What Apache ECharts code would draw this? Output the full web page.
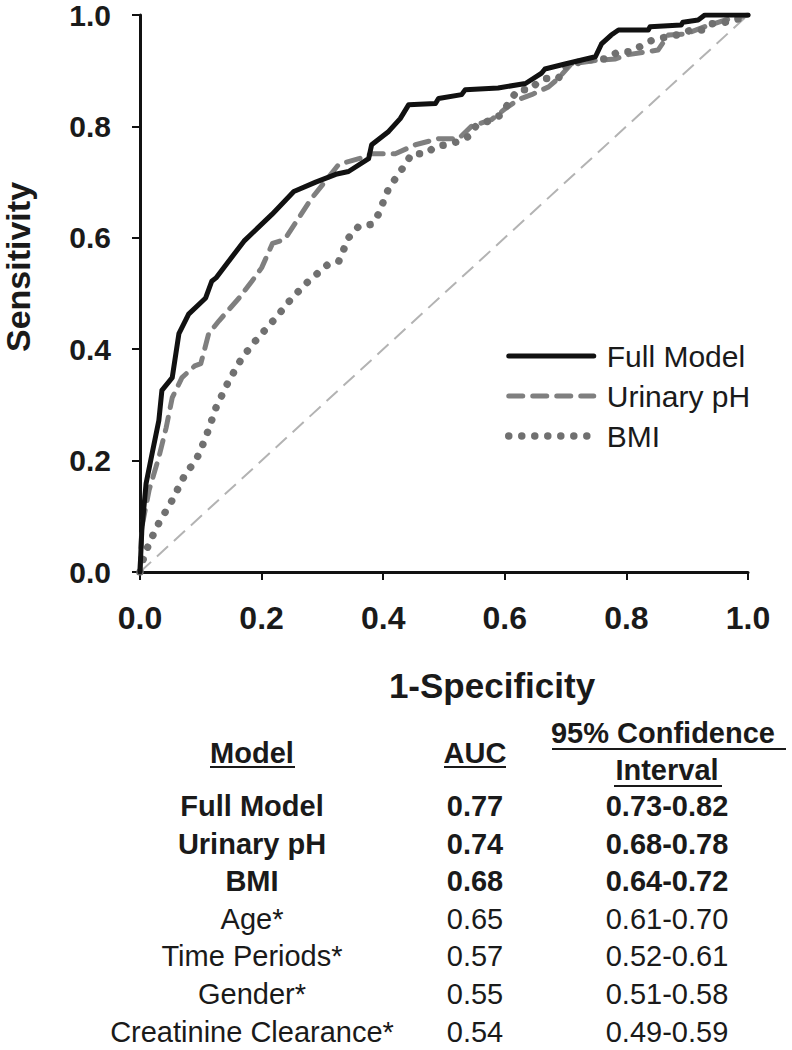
<!DOCTYPE html>
<html>
<head>
<meta charset="utf-8">
<script src="https://cdn.jsdelivr.net/npm/echarts@6/dist/echarts.min.js"></script>
<style>
html,body{margin:0;padding:0;background:#ffffff;}
#chart{width:792px;height:1050px;}
</style>
</head>
<body>
<div id="chart"></div>
<script>
// ---------------- data ----------------
const seriesNames = ['Full Model', 'Urinary pH', 'BMI'];

const fullModel = [[0,0],[0.003,0.075],[0.01,0.159],[0.02,0.213],[0.031,0.272],[0.036,0.326],[0.053,0.349],[0.064,0.428],[0.08,0.463],[0.108,0.492],[0.118,0.522],[0.125,0.528],[0.171,0.594],[0.217,0.642],[0.253,0.683],[0.289,0.70],[0.322,0.714],[0.343,0.719],[0.376,0.742],[0.381,0.767],[0.409,0.791],[0.428,0.814],[0.442,0.839],[0.486,0.841],[0.491,0.85],[0.529,0.857],[0.535,0.866],[0.589,0.869],[0.634,0.877],[0.66,0.895],[0.666,0.903],[0.699,0.912],[0.749,0.925],[0.759,0.948],[0.775,0.964],[0.787,0.973],[0.836,0.973],[0.839,0.979],[0.89,0.982],[0.893,0.987],[0.918,0.991],[0.929,1.0],[1,1]];

const urinaryPH = [[0,0],[0.003,0.08],[0.015,0.147],[0.031,0.206],[0.043,0.259],[0.053,0.313],[0.069,0.349],[0.09,0.37],[0.1,0.374],[0.113,0.428],[0.13,0.451],[0.163,0.492],[0.184,0.522],[0.2,0.546],[0.218,0.59],[0.238,0.597],[0.281,0.669],[0.327,0.732],[0.36,0.742],[0.381,0.751],[0.42,0.751],[0.453,0.767],[0.491,0.778],[0.524,0.778],[0.545,0.8],[0.578,0.812],[0.601,0.832],[0.622,0.848],[0.644,0.857],[0.672,0.871],[0.688,0.886],[0.709,0.912],[0.754,0.919],[0.782,0.921],[0.798,0.928],[0.852,0.937],[0.869,0.964],[0.897,0.966],[0.929,0.979],[0.962,0.991],[1,1]];

const bmi = [[0,0],[0.003,0.016],[0.015,0.052],[0.031,0.088],[0.053,0.129],[0.075,0.177],[0.092,0.2],[0.108,0.241],[0.125,0.295],[0.146,0.343],[0.168,0.385],[0.19,0.415],[0.223,0.456],[0.25,0.492],[0.277,0.522],[0.31,0.553],[0.327,0.558],[0.343,0.6],[0.36,0.621],[0.381,0.624],[0.392,0.642],[0.409,0.689],[0.425,0.714],[0.437,0.733],[0.447,0.751],[0.47,0.751],[0.486,0.764],[0.504,0.767],[0.524,0.773],[0.54,0.782],[0.552,0.8],[0.578,0.812],[0.594,0.821],[0.611,0.85],[0.622,0.866],[0.642,0.866],[0.655,0.88],[0.668,0.886],[0.688,0.886],[0.699,0.907],[0.732,0.919],[0.765,0.921],[0.787,0.934],[0.808,0.934],[0.836,0.952],[0.849,0.957],[0.869,0.961],[0.89,0.966],[0.906,0.973],[0.926,0.973],[0.939,0.984],[0.962,0.987],[0.984,0.993],[1,1]];

const chanceLine = [[0,0],[1,1]];

const xAxisTitle = '1-Specificity';
const yAxisTitle = 'Sensitivity';

const tableHeaders = ['Model', 'AUC', '95% Confidence ', 'Interval'];
const tableModels = ['Full Model', 'Urinary pH', 'BMI', 'Age*', 'Time Periods*', 'Gender*', 'Creatinine Clearance*'];
const tableAUC = ['0.77', '0.74', '0.68', '0.65', '0.57', '0.55', '0.54'];
const tableCI = ['0.73-0.82', '0.68-0.78', '0.64-0.72', '0.61-0.70', '0.52-0.61', '0.51-0.58', '0.49-0.59'];
const tableBold = [true, true, true, false, false, false, false];

// ---------------- styles ----------------
const FONT = '"Liberation Sans", Arial, Helvetica, sans-serif';
const INK = '#1a1a1a';
const styleFull = {color: '#111111', width: 5, type: 'solid', cap: 'round', join: 'round'};
const styleUrinary = {color: '#7f7f7f', width: 5, type: [14, 10], cap: 'round', join: 'round'};
const styleBMI = {color: '#707070', width: 7.5, type: [0.01, 13], cap: 'round', join: 'round'};
const styleChance = {color: '#b3b3b3', width: 2, type: [15, 8]};

const chart = echarts.init(document.getElementById('chart'), null, {renderer: 'svg'});

const colX = [252, 475, 667];
const rowY0 = 806, rowStep = 37.6;

const graphics = [];
// axis titles
graphics.push({type: 'text', x: 492, y: 685, style: {text: xAxisTitle, align: 'center', verticalAlign: 'middle', font: 'bold 35px ' + FONT, fill: INK}});
graphics.push({type: 'text', x: 18, y: 267, rotation: Math.PI / 2, style: {text: yAxisTitle, align: 'center', verticalAlign: 'middle', font: 'bold 34px ' + FONT, fill: INK}});

// table headers
const hdrFont = 'bold 29px ' + FONT;
graphics.push({type: 'text', x: colX[0], y: 753, style: {text: tableHeaders[0], align: 'center', verticalAlign: 'middle', font: hdrFont, fill: INK}});
graphics.push({type: 'text', x: colX[1], y: 753, style: {text: tableHeaders[1], align: 'center', verticalAlign: 'middle', font: hdrFont, fill: INK}});
graphics.push({type: 'text', x: colX[2], y: 733, style: {text: tableHeaders[2], align: 'center', verticalAlign: 'middle', font: hdrFont, fill: INK}});
graphics.push({type: 'text', x: colX[2], y: 770, style: {text: tableHeaders[3], align: 'center', verticalAlign: 'middle', font: hdrFont, fill: INK}});
// underlines
const ul = (x1, x2, y) => graphics.push({type: 'line', shape: {x1: x1, y1: y, x2: x2, y2: y}, style: {stroke: INK, lineWidth: 2}});
ul(210, 295, 767);
ul(444, 506, 767);
ul(552, 786, 749);
ul(614, 722, 786);

// table rows
tableModels.forEach((m, i) => {
  const y = rowY0 + i * rowStep;
  const f = (tableBold[i] ? 'bold ' : '') + '29px ' + FONT;
  [m, tableAUC[i], tableCI[i]].forEach((t, j) => {
    graphics.push({type: 'text', x: colX[j], y: y, style: {text: t, align: 'center', verticalAlign: 'middle', font: f, fill: INK}});
  });
});

const option = {
  backgroundColor: '#ffffff',
  animation: false,
  grid: {left: 140, right: 44, top: 13, bottom: 478, containLabel: false},
  legend: {
    data: [
      {name: seriesNames[0], lineStyle: styleFull},
      {name: seriesNames[1], lineStyle: styleUrinary},
      {name: seriesNames[2], lineStyle: styleBMI}
    ],
    orient: 'vertical',
    left: 500,
    top: 336,
    itemWidth: 85,
    itemHeight: 14,
    itemGap: 10,
    itemStyle: {opacity: 0},
    formatter: name => '{t|' + name + '}',
    textStyle: {
      color: INK, fontFamily: FONT, fontSize: 30, lineHeight: 30,
      rich: {t: {fontSize: 30, fontFamily: FONT, color: INK, lineHeight: 30, padding: [0, 0, 0, 8]}}
    }
  },
  xAxis: {
    type: 'value', min: 0, max: 1, interval: 0.2,
    axisLine: {show: true, lineStyle: {color: '#111', width: 3}},
    axisTick: {show: true, inside: false, length: 8, lineStyle: {color: '#111', width: 2}},
    splitLine: {show: false},
    axisLabel: {formatter: v => v.toFixed(1), margin: 30, fontSize: 32, fontWeight: 'bold', fontFamily: FONT, color: INK}
  },
  yAxis: {
    type: 'value', min: 0, max: 1, interval: 0.2,
    axisLine: {show: true, lineStyle: {color: '#111', width: 3}},
    axisTick: {show: true, inside: false, length: 8, lineStyle: {color: '#111', width: 2}},
    splitLine: {show: false},
    axisLabel: {formatter: v => v.toFixed(1), margin: 29, fontSize: 30, fontWeight: 'bold', fontFamily: FONT, color: INK}
  },
  series: [
    {name: 'Chance', type: 'line', data: chanceLine, symbol: 'none', silent: true, lineStyle: styleChance, z: 1},
    {name: seriesNames[1], type: 'line', data: urinaryPH, symbol: 'none', lineStyle: styleUrinary, itemStyle: {color: styleUrinary.color}, z: 2},
    {name: seriesNames[2], type: 'line', data: bmi, symbol: 'none', lineStyle: styleBMI, itemStyle: {color: styleBMI.color}, z: 3},
    {name: seriesNames[0], type: 'line', data: fullModel, symbol: 'none', lineStyle: styleFull, itemStyle: {color: styleFull.color}, z: 4}
  ],
  graphic: graphics
};
chart.setOption(option);
</script>
</body>
</html>
